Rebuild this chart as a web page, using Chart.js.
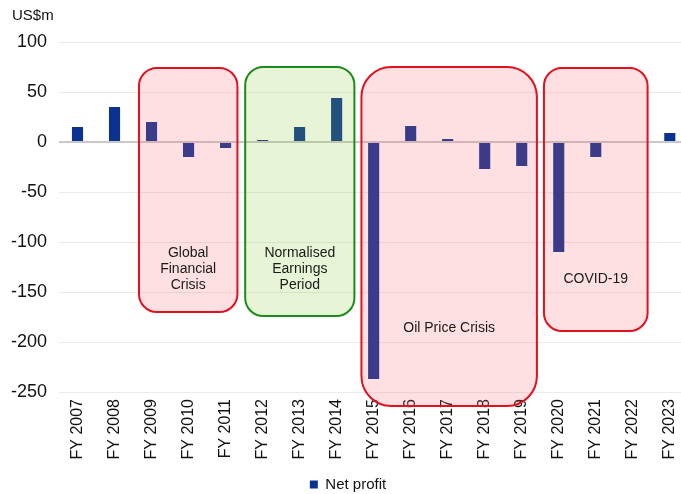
<!DOCTYPE html>
<html>
<head>
<meta charset="utf-8">
<script src="https://cdn.jsdelivr.net/npm/chart.js@4.4.1/dist/chart.umd.min.js"></script>
<style>
  html, body { margin: 0; padding: 0; background: #fff; overflow: hidden; }
  #wrap { width: 696px; height: 494px; }
</style>
</head>
<body>
<div id="wrap"><canvas id="c" width="696" height="494"></canvas></div>
<script>
// Net profit by financial year, US$m
const years = ['FY 2007','FY 2008','FY 2009','FY 2010','FY 2011','FY 2012','FY 2013','FY 2014','FY 2015',
               'FY 2016','FY 2017','FY 2018','FY 2019','FY 2020','FY 2021','FY 2022','FY 2023'];
const netProfit = [15, 35, 20, -15, -6, 2, 15, 44, -237, 16, 3, -27, -24, -110, -15, -1, 9];
const yTicks = [100, 50, 0, -50, -100, -150, -200, -250];

// Shaded periods: first/last category index, label lines
const periodNames  = [['Global', 'Financial', 'Crisis'], ['Normalised', 'Earnings', 'Period'], ['Oil Price Crisis'], ['COVID-19']];
const periodStart  = [2, 5, 8, 13];
const periodEnd    = [4, 7, 12, 15];

// Drawing geometry for each shaded period (category offsets, value range, label position)
const periodStyle = [
  { l: -0.34, r: 0.32, top: 74, bottom: -170, radius: 18, fill: 'rgba(250,100,110,0.2)', stroke: '#e3101e', labelY: -127 },
  { l: -0.47, r: 0.48, top: 75, bottom: -174, radius: 18, fill: 'rgba(140,200,50,0.2)',  stroke: '#1b8c1b', labelY: -127 },
  { l: -0.33, r: 0.41, top: 75, bottom: -264, radius: 30, fill: 'rgba(250,100,110,0.2)', stroke: '#e3101e', labelY: -186 },
  { l: -0.40, r: 0.40, top: 74, bottom: -189, radius: 18, fill: 'rgba(250,100,110,0.2)', stroke: '#e3101e', labelY: -137 }
];

const FONT = '"Liberation Sans", Arial, sans-serif';

function roundRect(ctx, x, y, w, h, r) {
  ctx.beginPath();
  ctx.moveTo(x + r, y);
  ctx.lineTo(x + w - r, y);
  ctx.arcTo(x + w, y, x + w, y + r, r);
  ctx.lineTo(x + w, y + h - r);
  ctx.arcTo(x + w, y + h, x + w - r, y + h, r);
  ctx.lineTo(x + r, y + h);
  ctx.arcTo(x, y + h, x, y + h - r, r);
  ctx.lineTo(x, y + r);
  ctx.arcTo(x, y, x + r, y, r);
  ctx.closePath();
}

const periodsPlugin = {
  id: 'periods',
  afterDatasetsDraw(chart) {
    const { ctx, scales: { x, y } } = chart;
    const cw = x.getPixelForValue(1) - x.getPixelForValue(0);
    ctx.save();
    periodStyle.forEach((s, i) => {
      const x0 = x.getPixelForValue(periodStart[i]) + s.l * cw;
      const x1 = x.getPixelForValue(periodEnd[i]) + s.r * cw;
      const y0 = y.getPixelForValue(s.top);
      const y1 = y.getPixelForValue(s.bottom);
      roundRect(ctx, x0, y0, x1 - x0, y1 - y0, s.radius);
      ctx.fillStyle = s.fill;
      ctx.fill();
      ctx.lineWidth = 2;
      ctx.strokeStyle = s.stroke;
      ctx.stroke();

      const lines = periodNames[i];
      ctx.fillStyle = '#1a1a1a';
      ctx.font = '14px ' + FONT;
      ctx.textAlign = 'center';
      ctx.textBaseline = 'middle';
      const cx = (x0 + x1) / 2;
      const cy = y.getPixelForValue(s.labelY);
      const lh = 16;
      lines.forEach((t, k) => {
        ctx.fillText(t, cx, cy + (k - (lines.length - 1) / 2) * lh);
      });
    });
    ctx.restore();
  },
  afterDraw(chart) {
    const { ctx } = chart;
    ctx.save();
    ctx.fillStyle = '#111';
    ctx.font = '15px ' + FONT;
    ctx.textAlign = 'left';
    ctx.textBaseline = 'middle';
    ctx.fillText('US$m', 12, 16);
    ctx.restore();
  }
};

new Chart(document.getElementById('c'), {
  type: 'bar',
  data: {
    labels: years,
    datasets: [{
      label: 'Net profit',
      data: netProfit,
      backgroundColor: '#0a3290',
      borderWidth: 0,
      barPercentage: 0.6,
      categoryPercentage: 0.5
    }]
  },
  options: {
    responsive: false,
    animation: false,
    devicePixelRatio: 1,
    layout: { padding: { top: 42, right: 0, bottom: -8, left: 0 } },
    plugins: {
      legend: {
        position: 'bottom',
        labels: {
          font: { family: FONT, size: 15 },
          color: '#111',
          boxWidth: 8,
          boxHeight: 8,
          padding: 3
        }
      },
      tooltip: { enabled: false }
    },
    scales: {
      x: {
        grid: { display: false, drawTicks: false },
        border: { display: false },
        ticks: {
          font: { family: FONT, size: 16 },
          color: '#111',
          minRotation: 90,
          maxRotation: 90,
          autoSkip: false,
          padding: 7
        },
        afterFit(scale) { scale.height = 82; }
      },
      y: {
        min: -250,
        max: 100,
        afterBuildTicks(scale) { scale.ticks = yTicks.map(v => ({ value: v })); },
        grid: {
          color: ctx => ctx.tick && ctx.tick.value === 0 ? '#c8c8c8' : '#ebebeb',
          lineWidth: ctx => ctx.tick && ctx.tick.value === 0 ? 2 : 1,
          drawTicks: false
        },
        border: { display: false },
        ticks: {
          font: { family: FONT, size: 18 },
          color: '#111',
          padding: 12
        },
        afterFit(scale) { scale.width = 59; }
      }
    }
  },
  plugins: [periodsPlugin]
});
</script>
</body>
</html>
